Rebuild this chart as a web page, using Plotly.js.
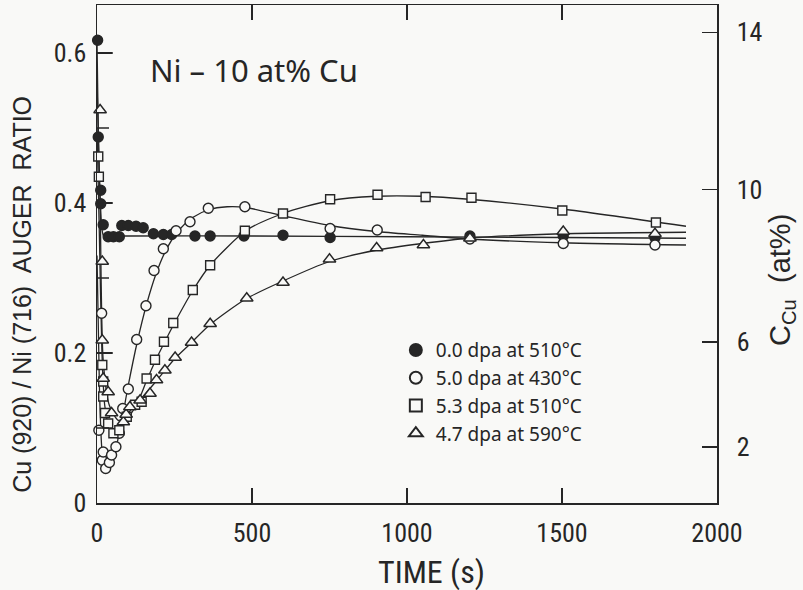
<!DOCTYPE html>
<html>
<head>
<meta charset="utf-8">
<script src="https://cdn.plot.ly/plotly-3.0.1.min.js"></script>
<style>html,body{margin:0;padding:0;background:#f9f9f7;}#chart{width:803px;height:590px;}</style>
</head>
<body>
<div id="chart"></div>
<script>
// ---- Data ----
// 0.0 dpa at 510°C (filled circles)
const filledT = [2, 4, 12, 12, 20, 36, 53, 72, 80, 101, 126, 149, 182, 214, 241, 316, 365, 474, 600, 752, 1203, 1504, 1800];
const filledY = [0.617, 0.488, 0.417, 0.399, 0.371, 0.355, 0.355, 0.355, 0.370, 0.370, 0.369, 0.367, 0.359, 0.358, 0.358, 0.356, 0.356, 0.356, 0.357, 0.354, 0.356, 0.356, 0.354];
// 5.0 dpa at 430°C (open circles)
const circT = [6, 15, 17, 20, 28, 40, 47, 61, 72, 83, 101, 128, 158, 184, 214, 255, 300, 359, 477, 752, 904, 1203, 1504, 1800];
const circY = [0.097, 0.253, 0.057, 0.068, 0.046, 0.054, 0.064, 0.075, 0.093, 0.126, 0.152, 0.218, 0.263, 0.310, 0.339, 0.363, 0.375, 0.393, 0.395, 0.366, 0.364, 0.352, 0.346, 0.344];
// 5.3 dpa at 510°C (open squares)
const sqT = [4, 6, 17, 20, 20, 26, 36, 53, 72, 96, 123, 144, 160, 187, 216, 246, 309, 365, 477, 600, 752, 905, 1060, 1208, 1501, 1803];
const sqY = [0.462, 0.435, 0.184, 0.162, 0.142, 0.120, 0.106, 0.093, 0.097, 0.115, 0.131, 0.135, 0.166, 0.191, 0.215, 0.240, 0.284, 0.317, 0.363, 0.386, 0.405, 0.411, 0.408, 0.407, 0.390, 0.374];
// 4.7 dpa at 590°C (open triangles)
const triT = [10, 17, 17, 20, 36, 47, 85, 94, 106, 139, 171, 192, 219, 252, 305, 365, 483, 600, 750, 902, 1053, 1203, 1504, 1800];
const triY = [0.524, 0.322, 0.217, 0.166, 0.148, 0.120, 0.108, 0.118, 0.128, 0.137, 0.146, 0.164, 0.177, 0.194, 0.214, 0.239, 0.273, 0.294, 0.325, 0.340, 0.344, 0.353, 0.362, 0.359];

// Fitted curves drawn through the data
const fitFilledT = [0, 4, 8, 12, 16, 22, 40, 100, 500, 1000, 1500, 1900];
const fitFilledY = [0.617, 0.50, 0.43, 0.39, 0.365, 0.356, 0.356, 0.356, 0.356, 0.355, 0.354, 0.353];
const fitCircT = [0, 8, 16, 25, 40, 60, 80, 100, 130, 160, 190, 220, 260, 310, 360, 420, 480, 600, 750, 900, 1050, 1200, 1500, 1900];
const fitCircY = [0.33, 0.15, 0.07, 0.046, 0.052, 0.072, 0.11, 0.155, 0.215, 0.265, 0.305, 0.335, 0.362, 0.381, 0.391, 0.395, 0.394, 0.383, 0.370, 0.362, 0.357, 0.352, 0.347, 0.344];
const fitSqT = [0, 8, 16, 25, 40, 60, 100, 130, 160, 190, 220, 250, 310, 365, 480, 600, 750, 900, 1050, 1200, 1500, 1900];
const fitSqY = [0.50, 0.35, 0.20, 0.13, 0.10, 0.092, 0.113, 0.133, 0.163, 0.191, 0.216, 0.240, 0.284, 0.317, 0.363, 0.386, 0.403, 0.409, 0.409, 0.405, 0.392, 0.369];
const fitTriT = [0, 10, 20, 40, 70, 100, 140, 190, 250, 300, 365, 480, 600, 750, 900, 1050, 1200, 1500, 1900];
const fitTriY = [0.56, 0.40, 0.19, 0.13, 0.11, 0.12, 0.138, 0.162, 0.192, 0.212, 0.238, 0.272, 0.296, 0.322, 0.337, 0.346, 0.353, 0.359, 0.361];

// Axis ticks
const leftTickVals = [0, 0.2, 0.4, 0.6];
const leftTickText = ['0', '0.2', '0.4', '0.6'];
const leftMarkVals = [0.1, 0.2, 0.3, 0.4, 0.5, 0.6];
const rightTickVals = [0.0747, 0.2147, 0.418, 0.6276];
const rightTickText = ['2', '6', '10', '14'];
const xTickVals = [0, 500, 1000, 1500, 2000];
const legendNames = ['0.0 dpa at 510°C', '5.0 dpa at 430°C', '5.3 dpa at 510°C', '4.7 dpa at 590°C'];

const ink = '#262626';
const bg = '#f9f9f7';
const narrow = '"Liberation Sans Narrow", "Roboto Condensed", "DejaVu Sans Condensed", sans-serif';
const yRange = [0, 0.664];

function fit(x, y) {
  return {x: x, y: y, mode: 'lines', type: 'scatter', showlegend: false, hoverinfo: 'skip',
          line: {color: ink, width: 1.3, shape: 'spline', smoothing: 0.7}, cliponaxis: false};
}
function pts(x, y, name, symbol, filled, size) {
  return {x: x, y: y, mode: 'markers', type: 'scatter', name: name, cliponaxis: false,
          marker: {symbol: symbol, size: size, color: filled ? ink : bg, line: {color: ink, width: 1.4}}};
}

const traces = [
  fit(fitFilledT, fitFilledY), fit(fitCircT, fitCircY), fit(fitSqT, fitSqY), fit(fitTriT, fitTriY),
  pts(filledT, filledY, legendNames[0], 'circle', true, 10),
  pts(circT, circY, legendNames[1], 'circle', false, 10),
  pts(sqT, sqY, legendNames[2], 'square', false, 9),
  pts(triT, triY, legendNames[3], 'triangle-up', false, 11),
  {x: [0], y: [0], yaxis: 'y2', type: 'scatter', mode: 'markers', marker: {opacity: 0}, showlegend: false, hoverinfo: 'skip'}
];

const tickStyle = {ticks: 'inside', ticklen: 15, tickwidth: 1.3, tickcolor: ink, showline: true, linecolor: ink,
                   linewidth: 1.5, showgrid: false, zeroline: false};

// Left-axis tick marks, placed on the y scale from the tick values (pixel-sized length)
const leftTickShapes = leftMarkVals.map(function (v, i) {
  return {type: 'line', xref: 'x', yref: 'y', xsizemode: 'pixel', xanchor: 0, x0: 0, x1: (i % 2 === 0 ? 12 : 16),
          y0: v, y1: v, line: {color: ink, width: 1.5}, layer: 'above'};
});

const layout = {
  width: 803, height: 590,
  paper_bgcolor: bg, plot_bgcolor: bg,
  margin: {l: 97, r: 86, t: 5, b: 87},
  font: {family: narrow, color: ink, size: 21},
  xaxis: Object.assign({
    range: [0, 2000], tickvals: xTickVals, mirror: 'ticks', ticklabelstandoff: 6,
    tickfont: {family: narrow, size: 26, color: ink}
  }, tickStyle),
  yaxis: Object.assign({
    range: yRange, tickmode: 'array', tickvals: leftTickVals, ticktext: leftTickText,
    ticklabelstandoff: 4, tickfont: {family: narrow, size: 26, color: ink}
  }, tickStyle),
  yaxis2: Object.assign({
    overlaying: 'y', side: 'right', anchor: 'x', range: yRange, tickmode: 'array', tickvals: rightTickVals, ticktext: rightTickText,
    ticklabelstandoff: 13, tickfont: {family: narrow, size: 26, color: ink}
  }, tickStyle),
  shapes: leftTickShapes,
  legend: {
    x: 0.482, y: 0.345, xanchor: 'left', yanchor: 'top', bgcolor: 'rgba(0,0,0,0)',
    font: {family: '"Noto Sans", sans-serif', size: 19, color: ink}, tracegroupgap: 0, itemsizing: 'constant'
  },
  annotations: [
    {xref: 'paper', yref: 'paper', x: 0.082, y: 0.87, xanchor: 'left', yanchor: 'middle', showarrow: false,
     text: 'Ni – 10 at% Cu', font: {family: '"Noto Sans", sans-serif', size: 31, color: ink}},
    {xref: 'paper', yref: 'paper', x: -0.121, y: 0.42, xanchor: 'center', yanchor: 'middle', showarrow: false, textangle: -90,
     text: 'Cu (920) / Ni (716)  AUGER  RATIO', font: {family: '"Liberation Sans", sans-serif', size: 25, color: ink}},
    {xref: 'paper', yref: 'paper', x: 1.105, y: 0.448, xanchor: 'center', yanchor: 'middle', showarrow: false, textangle: -90,
     text: 'C<sub>Cu</sub>  (at%)', font: {family: '"Liberation Sans", sans-serif', size: 29, color: ink}},
    {xref: 'paper', yref: 'paper', x: 0.540, y: -0.139, xanchor: 'center', yanchor: 'middle', showarrow: false,
     text: 'TIME (s)', font: {family: narrow, size: 32, color: ink}}
  ]
};

Plotly.newPlot('chart', traces, layout, {displayModeBar: false, staticPlot: true});
</script>
</body>
</html>
